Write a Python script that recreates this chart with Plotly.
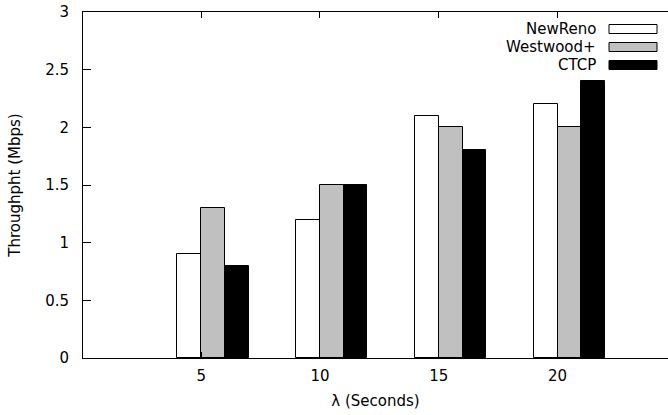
import plotly.graph_objects as go

# Throughput per TCP variant for each lambda value
lambdas = ["5", "10", "15", "20"]
series_names = ["NewReno", "Westwood+", "CTCP"]
newreno = [0.9, 1.2, 2.1, 2.2]
westwood = [1.3, 1.5, 2.0, 2.0]
ctcp = [0.8, 1.5, 1.8, 2.4]
y_ticks = [0, 0.5, 1, 1.5, 2, 2.5, 3]

series_values = [newreno, westwood, ctcp]
fills = ["#ffffff", "#c0c0c0", "#000000"]
offsets = [-0.1, 0.1, 0.3]
bar_w = 0.2

W, H = 668, 415
L, R, T, B = 83, 0, 12, 57
FONT = "DejaVu Sans"

fig = go.Figure()
for name, vals, fill, off in zip(series_names, series_values, fills, offsets):
    fig.add_trace(go.Bar(
        x=[i + off for i in range(len(lambdas))],
        y=vals,
        width=bar_w,
        name=name,
        marker=dict(color=fill, line=dict(color="#000000", width=1)),
        showlegend=False,
    ))

# gnuplot-style key: right-aligned labels followed by wide sample boxes
plot_w = W - L - R
plot_h = H - T - B


def px_x(px):
    return (px - L) / plot_w


def px_y(py):
    return (H - B - py) / plot_h


key_rows = [29, 47, 65]
for name, fill, cy in zip(series_names, fills, key_rows):
    fig.add_annotation(
        x=px_x(598), y=px_y(cy), xref="paper", yref="paper",
        text=name, showarrow=False, xanchor="right", yanchor="middle",
        font=dict(family=FONT, size=15, color="#000000"),
    )
    fig.add_shape(
        type="rect", xref="paper", yref="paper",
        x0=px_x(609), x1=px_x(657), y0=px_y(cy - 4.5), y1=px_y(cy + 4.5),
        fillcolor=fill, line=dict(color="#000000", width=1),
    )

fig.update_layout(
    width=W, height=H,
    margin=dict(l=L, r=R, t=T, b=B, pad=0),
    plot_bgcolor="#ffffff", paper_bgcolor="#ffffff",
    font=dict(family=FONT, size=15, color="#000000"),
    bargap=0,
    xaxis=dict(
        range=[-0.995, 3.93],
        tickvals=list(range(len(lambdas))),
        ticktext=lambdas,
        ticks="inside", ticklen=6, tickcolor="#000000", tickwidth=1,
        showline=True, linecolor="#000000", linewidth=1, mirror="ticks",
        showgrid=False, zeroline=False,
        ticklabelstandoff=4,
        title=dict(text="λ (Seconds)", standoff=11,
                   font=dict(family=FONT, size=15)),
        tickfont=dict(family=FONT, size=15),
    ),
    yaxis=dict(
        range=[0, 3],
        tickvals=y_ticks,
        ticktext=[f"{v:g}" for v in y_ticks],
        ticks="inside", ticklen=8, tickcolor="#000000", tickwidth=1,
        showline=True, linecolor="#000000", linewidth=1, mirror=False,
        showgrid=False, zeroline=False,
        ticklabelstandoff=10,
        title=dict(text="Throughpht (Mbps)", standoff=20,
                   font=dict(family=FONT, size=15)),
        tickfont=dict(family=FONT, size=15),
    ),
)

fig.write_html("out.html")
